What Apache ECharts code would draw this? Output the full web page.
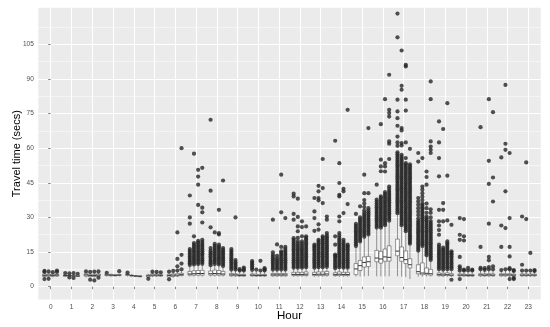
<!DOCTYPE html>
<html><head><meta charset="utf-8">
<script src="https://cdn.jsdelivr.net/npm/echarts@6/dist/echarts.min.js"></script>
<style>html,body{margin:0;padding:0;background:#fff}#c{width:550px;height:327px}</style>
</head><body><div id="c"></div>
<script>
const hours = [0,1,2,3,4,5,6,7,8,9,10,11,12,13,14,15,16,17,18,19,20,21,22,23];
const yTicks = [0,15,30,45,60,75,90,105];
const yMinor = [7.5,22.5,37.5,52.5,67.5,82.5,97.5,112.5];

// [lower whisker, q1, median, q3, upper whisker] per hour, for the 4 dodged groups
const boxA = [
[3.8,4.4,4.9,5.4,6.0],[4.2,4.5,4.8,5.1,5.5],[4.0,4.6,5.1,5.6,6.2],[4.4,4.8,5.1,5.4,5.8],
[4.4,4.9,5.2,5.5,5.9],[3.8,4.3,4.7,5.1,5.6],[3.5,4.2,4.8,5.3,6.0],[4.4,5.0,5.5,6.6,9.0],
[4.4,5.0,5.6,6.8,9.0],[4.3,4.7,5.1,5.7,7.0],[4.3,4.7,5.0,5.5,6.8],[4.3,4.7,5.1,5.7,7.0],
[4.3,4.8,5.3,6.2,7.8],[4.3,4.8,5.3,6.2,7.8],[4.3,4.8,5.2,6.0,7.5],[4.4,5.2,7.7,10.0,17.0],
[4.5,10.8,12.4,15.7,25.0],[4.5,13.4,15.4,20.6,31.0],[4.4,5.6,6.5,9.5,15.0],[4.3,4.8,5.2,5.9,7.2],
[4.3,4.7,5.0,5.5,6.5],[4.3,4.7,5.1,5.6,6.9],[4.3,4.7,5.1,5.6,6.8],[4.3,4.7,5.0,5.5,6.5]];
const boxB = [
[3.9,4.5,5.0,5.5,6.2],[4.3,4.6,4.8,5.0,5.3],[3.8,4.3,4.8,5.2,5.8],[4.4,4.7,5.0,5.3,5.7],
[4.4,4.6,4.8,5.0,5.3],[4.2,4.6,5.0,5.5,6.2],[3.8,4.4,5.0,5.5,6.2],[4.4,5.0,5.6,6.9,9.2],
[4.4,5.0,5.7,7.2,9.4],[4.3,4.7,5.1,5.6,7.0],[4.3,4.6,4.9,5.4,6.8],[4.3,4.7,5.1,5.7,7.0],
[4.3,4.8,5.3,6.2,7.8],[4.3,4.8,5.4,6.4,8.0],[4.3,4.8,5.4,6.4,8.0],[4.4,7.0,9.1,11.3,19.0],
[4.5,10.2,12.0,15.3,25.0],[4.4,11.0,12.6,17.2,26.0],[4.4,5.2,5.9,10.3,17.0],[4.3,4.7,5.1,5.8,7.0],
[4.3,4.7,5.0,5.5,6.5],[4.3,4.7,5.0,5.5,6.8],[4.3,4.7,5.1,5.6,7.0],[4.3,4.7,5.0,5.5,6.5]];
const boxC = [
[4.0,4.5,4.9,5.3,5.8],[4.3,4.5,4.7,5.0,5.3],[4.0,4.4,4.8,5.3,5.9],[4.5,4.7,4.9,5.2,5.5],
[4.2,4.4,4.6,4.8,5.1],[4.2,4.6,5.0,5.4,6.0],[4.2,4.6,5.0,5.6,6.4],[4.4,5.0,5.7,7.0,9.4],
[4.4,5.0,5.6,7.0,9.2],[4.3,4.6,4.9,5.3,6.5],[4.3,4.6,4.9,5.3,6.5],[4.3,4.7,5.1,5.7,7.0],
[4.3,4.8,5.3,6.2,7.8],[4.3,4.8,5.4,6.4,8.0],[4.3,4.8,5.3,6.2,7.8],[4.5,8.5,10.5,12.9,21.0],
[4.5,11.0,12.9,16.3,26.0],[4.2,10.0,11.7,15.5,23.5],[4.4,5.2,5.8,8.1,13.0],[4.3,4.8,5.2,6.0,7.2],
[4.3,4.6,4.9,5.3,6.3],[4.3,4.7,5.1,5.6,7.0],[4.2,4.7,5.1,5.6,7.0],[4.3,4.7,5.0,5.5,6.5]];
const boxD = [
[4.2,4.6,5.0,5.3,5.8],[4.2,4.4,4.6,4.9,5.2],[4.2,4.6,5.0,5.5,6.0],[4.5,4.8,5.0,5.3,5.7],
[4.1,4.3,4.5,4.7,5.0],[4.3,4.6,4.9,5.2,5.7],[4.5,4.8,5.2,5.8,6.6],[4.4,5.0,5.7,7.1,9.5],
[4.4,5.0,5.5,6.6,8.6],[4.3,4.6,4.9,5.3,6.5],[4.3,4.6,4.9,5.3,6.5],[4.3,4.7,5.1,5.7,7.0],
[4.3,4.8,5.4,6.4,8.0],[4.3,4.9,5.5,6.6,8.2],[4.3,4.8,5.3,6.2,7.8],[4.6,8.7,10.8,13.1,22.0],
[4.5,11.1,12.7,17.7,28.0],[3.3,8.1,9.5,12.1,18.0],[4.4,5.0,5.6,7.5,11.0],[4.3,4.7,5.0,5.6,7.0],
[4.3,4.6,4.9,5.3,6.3],[4.3,4.7,5.0,5.5,6.8],[4.2,4.6,5.0,5.4,6.5],[4.3,4.7,5.0,5.4,6.4]];

// outliers per hour for each group
const outA = [
[3.3,6.4,6.8],[5.9],[6.6],[6.0],[6.1],[3.4],[3.2,6.5],
[9.4,10.2,10.9,11.6,12.4,13.1,13.9,14.7,15.5,16.3,27.3,30.0,39.5],
[9.3,10.1,10.9,11.6,12.4,13.2,14.0,14.8,15.6,16.7,25.7,41.6,72.3],
[7.4,8.2,9.0,9.8,10.6,11.4,12.2,13.0,13.8,14.6,15.4,16.3],
[7.3,8.1,8.9,9.7,10.4,11.1],
[7.4,8.2,9.0,9.8,10.6,11.4,12.2,13.0,13.8,14.9,29.0],
[8.2,9.0,9.8,10.6,11.4,12.2,13.0,13.8,14.6,15.4,16.2,17.0,17.8,18.6,19.4,20.2,21.0,29.0,31.5,39.1,40.3],
[8.2,9.0,9.8,10.6,11.4,12.2,13.0,13.8,14.6,15.4,16.2,17.0,17.6,18.2,24.2,29.7,32.6,38.4],
[8.0,8.8,9.6,10.4,11.2,12.0,12.8,13.4,13.9,18.2,21.8,63.2],
[17.6,18.4,19.2,20.0,20.8,21.6,22.4,23.2,24.0,24.8,25.6,26.4,27.2,31.5],
[25.6,26.4,27.2,28.0,28.8,29.6,30.4,31.2,32.0,32.8,33.6,34.4,35.2,36.0,36.9,37.7,44.2],
[31.8,32.6,33.4,34.2,35.0,35.8,36.6,37.4,38.2,39.0,39.8,40.6,41.4,42.2,43.0,43.8,44.6,45.4,46.2,47.0,47.8,48.6,49.4,50.2,51.0,51.8,52.6,53.4,54.2,55.0,55.8,56.6,57.4,58.2,61.0,62.5,65.0,69.7,73.0,75.9,81.0,108.0,118.3],
[15.6,16.4,17.2,18.0,18.8,19.6,20.4,21.2,22.0,22.8,23.6,24.4,25.2,26.0,26.8,27.6,28.4,29.5,31.0,32.5,34.0,35.5,37.0,38.4,54.2,57.9],
[7.6,8.4,9.2,10.0,10.8,11.6,12.4,13.2,14.0,14.8,15.6,16.4,17.3,18.2,22.5,24.5,26.5,28.3,33.3,47.8,55.7,62.5,71.6],
[3.3,7.0,8.0,8.8,12.9,20.3,22.5,29.7],
[7.5,8.2,17.2,69.1],
[7.2,17.2,26.5,56.0],
[7.0,9.5,30.4]];
const outB = [
[3.4,6.6],[4.0,5.8],[3.0,6.4],[],[],[6.5],[6.8],
[9.6,10.4,11.1,11.9,12.6,13.4,14.2,15.0,15.7,16.5,17.3,18.1,18.9,21.8,57.6],
[9.8,10.6,11.4,12.1,12.9,13.7,14.5,15.3,16.1,16.9,17.7,18.5,23.5],
[7.4,8.2,9.0,9.8,10.6,11.5,30.0],
[7.4],
[7.4,8.2,9.0,9.8,10.6,11.4,12.3,13.4,18.3],
[8.2,9.0,9.8,10.6,11.4,12.2,13.0,13.8,14.6,15.4,16.2,17.0,17.8,18.7,19.6,21.1,24.0,26.1,30.2,38.1],
[8.4,9.2,10.0,10.8,11.6,12.4,13.2,14.0,14.8,15.6,16.4,17.2,18.0,18.8,19.6,20.3,24.7,27.0,37.4,38.4,41.3,43.7],
[8.4,9.2,10.0,10.8,11.6,12.4,13.2,14.0,14.8,15.6,16.4,17.2,18.0,18.8,19.6,20.4,21.2,22.2,23.2,28.3,30.4,39.1,39.8,44.9,53.5],
[19.6,20.4,21.2,22.0,22.8,23.6,24.4,25.2,26.0,26.8,27.6,28.4,29.2,30.0,34.8],
[25.6,26.4,27.2,28.0,28.8,29.6,30.4,31.2,32.0,32.8,33.6,34.4,35.2,36.0,36.8,37.6,38.4,39.1,50.0,52.1,55.0,70.4],
[26.6,27.4,28.2,29.0,29.8,30.6,31.4,32.2,33.0,33.8,34.6,35.4,36.2,37.0,37.8,38.6,39.4,40.2,41.0,41.8,42.6,43.4,44.2,45.0,45.8,46.6,47.4,48.2,49.0,49.8,50.6,51.4,52.2,53.0,53.8,54.6,55.4,56.2,57.1,61.2,62.2,67.7,68.7,85.3,87.0,102.3],
[17.6,18.4,19.2,20.0,20.8,21.6,22.4,23.2,24.0,24.8,25.6,26.4,27.2,28.0,28.8,29.6,30.4,31.2,32.0,32.8,33.6,34.4,35.2,36.0,37.5,39.0,40.5,42.0,43.4,55.7],
[7.4,8.2,9.0,9.8,10.6,11.4,12.2,13.0,13.8,14.6,15.4,16.1,16.9,28.3,33.3,36.2,68.3],
[7.0,7.4,20.0,21.8,29.3],
[7.3,8.0],
[7.5,25.4,41.3,59.3,61.9,87.4],
[7.0,29.3,53.8]];
const outC = [
[6.3],[3.8,5.9],[2.7,6.5],[],[],[6.4],[7.0,8.8,12.0,23.5],
[9.8,10.5,11.3,12.0,12.8,13.6,14.4,15.1,15.9,16.7,17.5,18.3,19.1,19.8,35.4,44.2,47.7,50.6],
[9.6,10.4,11.2,12.0,12.7,13.5,14.3,15.1,15.9,16.7,17.4,18.2,22.6,23.2,33.3],
[7.0,7.6],
[7.0,11.2],
[7.4,8.2,9.0,9.8,10.6,11.4,12.2,13.0,13.8,14.6,15.3,17.2,32.2,48.5],
[8.2,9.0,9.8,10.6,11.4,12.2,13.0,13.8,14.6,15.4,16.2,17.0,17.8,18.7,19.6,21.8,25.8,28.3],
[8.4,9.2,10.0,10.8,11.6,12.4,13.2,14.0,14.8,15.6,16.4,17.2,18.0,18.8,19.6,20.4,21.1,21.8,36.2,42.7,55.3],
[8.2,9.0,9.8,10.6,11.4,12.2,13.0,13.8,14.6,15.4,16.2,17.0,17.8,18.6,19.4,20.3,31.9,41.3,42.4],
[21.6,22.4,23.2,24.0,24.8,25.6,26.4,27.2,28.0,28.8,29.6,30.4,31.2,32.0,33.0,34.5,36.0,37.5,40.5,48.5],
[26.6,27.4,28.2,29.0,29.8,30.6,31.4,32.2,33.0,33.8,34.6,35.4,36.2,37.0,37.8,38.6,39.4,40.2,41.0,49.9,52.1,53.5,81.2],
[24.0,24.8,25.6,26.4,27.2,28.0,28.8,29.6,30.4,31.2,32.0,32.8,33.6,34.4,35.2,36.0,36.8,37.6,38.4,39.2,40.0,40.8,41.6,42.4,43.2,44.0,44.8,45.6,46.4,47.2,48.0,48.8,49.6,50.4,51.2,52.0,52.8,53.5,55.7,62.5,76.3,81.0,95.4,96.1],
[13.6,14.4,15.2,16.0,16.8,17.6,18.4,19.2,20.0,20.8,21.6,22.4,23.2,24.0,24.8,25.6,26.4,27.2,28.0,28.8,29.6,30.4,32.0,34.0,36.0,44.2,47.5,49.9],
[7.6,8.4,9.2,10.0,10.8,11.6,12.4,13.2,14.0,14.8,15.6,16.4,17.2,18.0,18.8,19.6,28.7,48.1,79.5],
[7.0,8.1],
[7.5,8.5,11.4,12.9,27.3,44.5,54.5,81.2],
[3.3,7.5,8.0,13.1,17.2,29.7,57.9],
[7.0,14.6]];
const outD = [
[6.4,7.0],[5.6],[3.9,6.6],[6.7],[],[6.2],[7.5,10.0,13.8,60.0],
[9.9,10.7,11.4,12.2,13.0,13.8,14.5,15.3,16.1,16.9,17.7,18.5,19.4,20.3,27.8,32.2,34.2,51.5],
[9.0,9.8,10.6,11.4,12.2,12.9,13.7,14.5,15.2,16.0,16.7,46.0],
[7.0,7.6,8.3],
[7.0,7.5,8.0],
[7.4,8.2,9.0,9.8,10.6,11.4,12.2,13.0,13.8,14.6,15.4,16.3,17.2,29.7],
[8.4,9.2,10.0,10.8,11.6,12.4,13.2,14.0,14.8,15.6,16.4,17.2,18.0,18.8,19.6,20.4,21.1,21.8,26.1],
[8.6,9.4,10.2,11.0,11.8,12.6,13.4,14.2,15.0,15.8,16.6,17.4,18.2,19.0,19.8,20.6,21.4,22.2,23.2,29.0,30.4],
[8.2,9.0,9.8,10.6,11.4,12.2,13.0,13.8,14.6,15.4,16.2,17.0,17.6,18.2,35.8,76.6],
[22.6,23.4,24.2,25.0,25.8,26.6,27.4,28.2,29.0,29.8,30.6,31.4,32.2,33.0,34.0,40.5,68.7],
[28.6,29.4,30.2,31.0,31.8,32.6,33.4,34.2,35.0,35.8,36.6,37.4,38.2,39.0,39.8,40.6,41.4,42.4,43.4,55.3,61.9,62.9,73.7,75.2,76.6,91.8],
[18.6,19.4,20.2,21.0,21.8,22.6,23.4,24.2,25.0,25.8,26.6,27.4,28.2,29.0,29.8,30.6,31.4,32.2,33.0,33.8,34.6,35.4,36.2,37.0,37.8,38.6,39.4,40.2,41.0,41.8,42.6,43.4,44.2,45.0,45.8,46.6,47.4,48.2,49.0,49.8,50.6,51.4,52.2,53.0,59.7],
[11.6,12.4,13.2,14.0,14.8,15.6,16.4,17.2,18.0,18.8,19.6,20.4,21.2,22.0,22.8,23.6,24.4,25.2,26.0,26.8,27.6,28.4,30.0,32.0,33.5,57.9,59.3,60.7,62.9,81.2,88.9],
[3.0,7.6,8.4,9.2,10.0,10.8,11.6,12.4,13.2,14.0,14.6,15.3,26.8],
[7.0,7.4],
[7.5,8.8,36.9,47.3,75.6],
[3.3,3.8,6.8,7.2],
[6.8,7.2]];

const dodge = [-0.3, -0.1, 0.1, 0.3];
const groups = [[boxA, outA], [boxB, outB], [boxC, outC], [boxD, outD]];
const boxData = [], pointData = [];
groups.forEach(function (gp, g) {
  hours.forEach(function (h, i) {
    const b = gp[0][i];
    boxData.push([h + dodge[g], b[0], b[1], b[2], b[3], b[4]]);
    gp[1][i].forEach(function (v) { pointData.push([h + dodge[g], v]); });
  });
});

const chart = echarts.init(document.getElementById('c'), null, {renderer: 'canvas'});
const FONT = 'Liberation Sans, Arial, sans-serif';
chart.setOption({
  animation: false,
  backgroundColor: '#fff',
  grid: {left: 38.24, right: 9.24, top: 7.8, bottom: 27.4, show: true, backgroundColor: '#EBEBEB', borderWidth: 0,
         containLabel: false, outerBoundsMode: 'none'},
  xAxis: {
    type: 'value', min: -0.6, max: 23.6,
    name: 'Hour', nameLocation: 'middle', nameGap: 10, nameMoveOverlap: false,
    nameTextStyle: {fontFamily: FONT, fontSize: 11.5, color: '#000', verticalAlign: 'top'},
    axisLine: {show: false},
    axisTick: {show: true, customValues: hours, length: 2.5, lineStyle: {color: '#333', width: 0.6}},
    axisLabel: {customValues: hours, fontFamily: FONT, fontSize: 6.5, color: '#4D4D4D', margin: 4},
    splitLine: {show: true, lineStyle: {color: '#fff', width: 1}}
  },
  yAxis: [{
    type: 'value', min: -5.6, max: 120.8,
    name: 'Travel time (secs)', nameLocation: 'middle', nameGap: 16, nameMoveOverlap: false,
    nameTextStyle: {fontFamily: FONT, fontSize: 11, color: '#000'},
    axisLine: {show: false},
    axisTick: {show: true, customValues: yTicks, length: 2.5, lineStyle: {color: '#333', width: 0.6}},
    axisLabel: {customValues: yTicks, fontFamily: FONT, fontSize: 6.5, color: '#4D4D4D', margin: 4.5},
    splitLine: {show: true, lineStyle: {color: '#fff', width: 1}}
  }, {
    type: 'value', min: -5.6, max: 120.8, position: 'left',
    axisLine: {show: false},
    axisTick: {show: false, customValues: yMinor},
    axisLabel: {show: false, customValues: yMinor},
    splitLine: {show: true, lineStyle: {color: '#fff', width: 0.5}}
  }],
  series: [{
    type: 'scatter', xAxisIndex: 0, yAxisIndex: 0, z: 2,
    data: pointData, symbol: 'circle', symbolSize: 4.2,
    itemStyle: {color: '#262626'}, silent: true
  }, {
    type: 'custom', xAxisIndex: 0, yAxisIndex: 0, z: 3,
    data: boxData,
    encode: {x: 0, y: [1, 2, 3, 4, 5]},
    renderItem: function (params, api) {
      const x = api.value(0);
      const lo = api.coord([x, api.value(1)]);
      const q1 = api.coord([x, api.value(2)]);
      const md = api.coord([x, api.value(3)]);
      const q3 = api.coord([x, api.value(4)]);
      const hi = api.coord([x, api.value(5)]);
      const half = api.size([0.09, 0])[0];
      const cx = lo[0];
      const ls = {stroke: '#333', lineWidth: 0.5};
      return {type: 'group', children: [
        {type: 'line', shape: {x1: cx, y1: q3[1], x2: cx, y2: hi[1]}, style: ls},
        {type: 'line', shape: {x1: cx, y1: q1[1], x2: cx, y2: lo[1]}, style: ls},
        {type: 'rect', shape: {x: cx - half, y: q3[1], width: 2 * half, height: q1[1] - q3[1]}, style: {fill: '#fff', stroke: '#333', lineWidth: 0.5}},
        {type: 'line', shape: {x1: cx - half, y1: md[1], x2: cx + half, y2: md[1]}, style: {stroke: '#333', lineWidth: 1}}
      ]};
    }
  }]
});
</script>
</body></html>
